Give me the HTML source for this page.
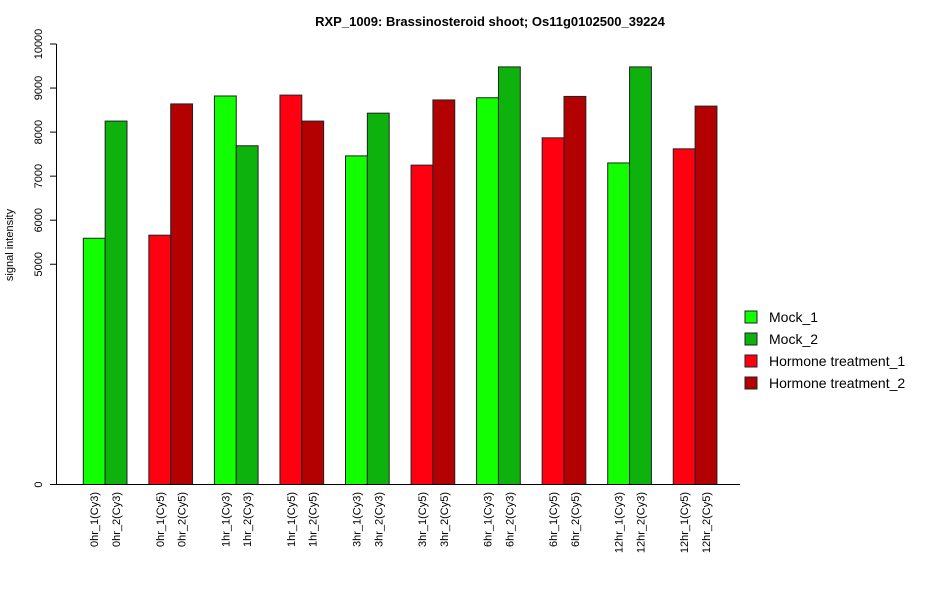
<!DOCTYPE html>
<html><head><meta charset="utf-8"><style>
body{margin:0;background:#fff}
svg text{font-family:"Liberation Sans",Arial,sans-serif}
</style></head><body>
<svg id="chart" width="950" height="600" viewBox="0 0 950 600" xmlns="http://www.w3.org/2000/svg">
<text x="490" y="26" text-anchor="middle" font-size="13" font-weight="bold">RXP_1009: Brassinosteroid shoot; Os11g0102500_39224</text>
<text transform="translate(13,245) rotate(-90)" text-anchor="middle" font-size="11">signal intensity</text>
<g id="marks"></g>
<g id="axes"></g>
<g id="legend"></g>
</svg>
<script>
const categories=["0hr_1(Cy3)","0hr_2(Cy3)","0hr_1(Cy5)","0hr_2(Cy5)","1hr_1(Cy3)","1hr_2(Cy3)","1hr_1(Cy5)","1hr_2(Cy5)","3hr_1(Cy3)","3hr_2(Cy3)","3hr_1(Cy5)","3hr_2(Cy5)","6hr_1(Cy3)","6hr_2(Cy3)","6hr_1(Cy5)","6hr_2(Cy5)","12hr_1(Cy3)","12hr_2(Cy3)","12hr_1(Cy5)","12hr_2(Cy5)"];
const values=[5590,8250,5660,8640,8820,7690,8840,8250,7460,8430,7250,8730,8780,9480,7870,8810,7300,9480,7620,8590];
const seriesIndex=[0,1,2,3,0,1,2,3,0,1,2,3,0,1,2,3,0,1,2,3];
const seriesNames=["Mock_1","Mock_2","Hormone treatment_1","Hormone treatment_2"];
const seriesColors=["#11ff00","#0db20d","#ff0010","#b30000"];
const yTicks=[0,5000,6000,7000,8000,9000,10000];
const NS="http://www.w3.org/2000/svg";
const y0=484.5,yScale=(484.5-44)/10000;
function yPos(v){return y0-v*yScale;}
const bw=21.85,x0=83.3;
function xPos(i){return x0+Math.floor(i/2)*3*bw+(i%2)*bw;}
function mk(tag,attrs,parent){const e=document.createElementNS(NS,tag);for(const k in attrs)e.setAttribute(k,attrs[k]);parent.appendChild(e);return e;}
const marks=document.getElementById('marks'),axes=document.getElementById('axes'),legend=document.getElementById('legend');
values.forEach((v,i)=>{
 const r=mk('rect',{x:xPos(i),y:yPos(v),width:bw,height:y0-yPos(v),fill:seriesColors[seriesIndex[i]],stroke:'#222','stroke-width':1},marks);
 
 
 const t=mk('text',{transform:`translate(${xPos(i)+bw/2+4},${492}) rotate(-90)`,'text-anchor':'end','font-size':11},axes);
 t.textContent=categories[i];
 
 
});
const xl=mk('line',{x1:56.5,x2:740,y1:y0,y2:y0,stroke:'#000'},axes);


const yl=mk('line',{x1:56.5,x2:56.5,y1:yPos(10000),y2:y0,stroke:'#000'},axes);


yTicks.forEach(v=>{
 mk('line',{x1:50,x2:56.5,y1:yPos(v),y2:yPos(v),stroke:'#000'},axes);
 const t=mk('text',{transform:`translate(42,${yPos(v)}) rotate(-90)`,'text-anchor':'middle','font-size':11},axes);
 t.textContent=v;
 
 
});
seriesNames.forEach((n,i)=>{
 const yy=311+i*22;
 const r=mk('rect',{x:745,y:yy,width:12,height:12,fill:seriesColors[i],stroke:'#222'},legend);
 
 
 const t=mk('text',{x:769,y:yy+11,'font-size':14},legend);
 t.textContent=n;
 
 
});
</script>
</body></html>
